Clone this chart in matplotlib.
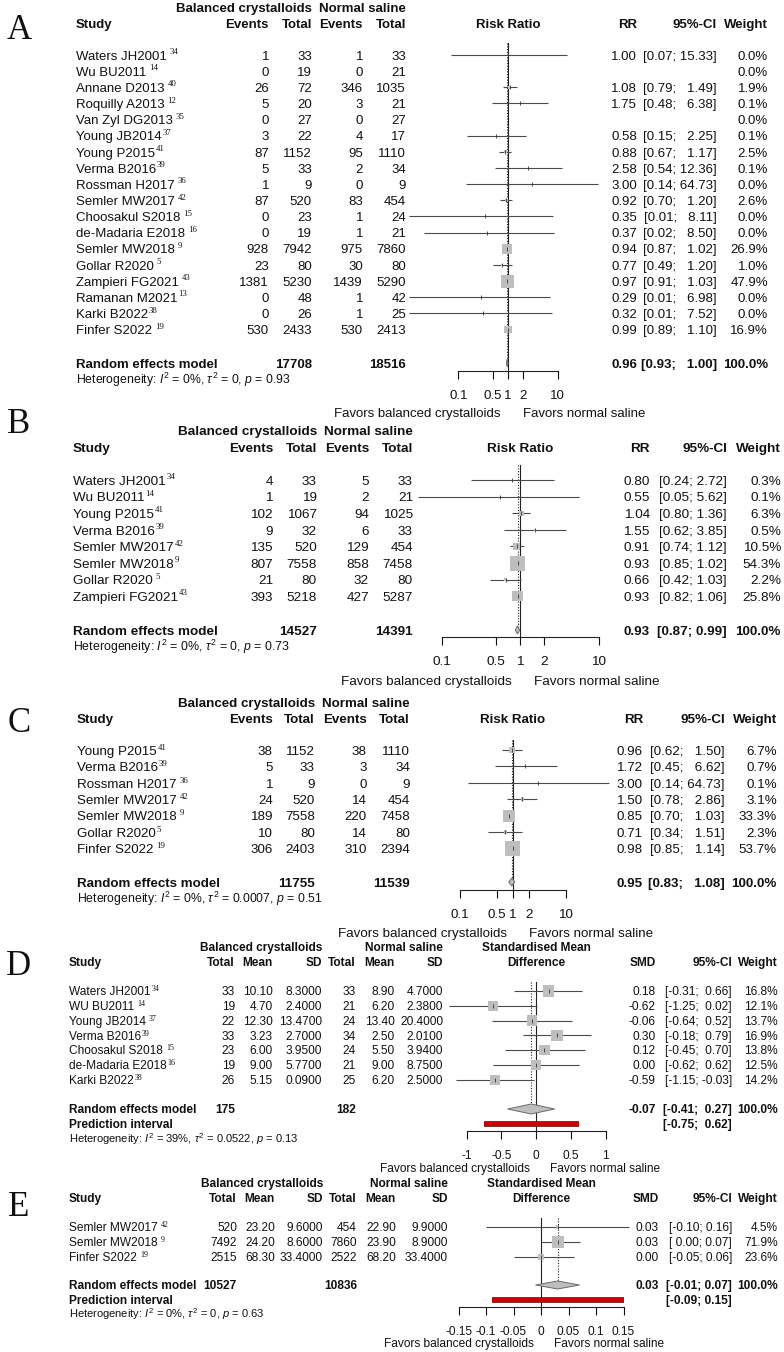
import numpy as np
import matplotlib
matplotlib.use("Agg")
import matplotlib.pyplot as plt
from matplotlib import patheffects as pe
from matplotlib.ticker import NullLocator

nan = np.nan

# ---------------- DATA ----------------
# Panel A
A_names = ["Waters JH2001", "Wu BU2011", "Annane D2013", "Roquilly A2013", "Van Zyl DG2013",
           "Young JB2014", "Young P2015", "Verma B2016", "Rossman H2017", "Semler MW2017",
           "Choosakul S2018", "de-Madaria E2018", "Semler MW2018", "Gollar R2020",
           "Zampieri FG2021", "Ramanan M2021", "Karki B2022", "Finfer S2022"]
A_refs = [" 34", " 14", " 40", " 12", " 35", "37", "41", "39", " 36", " 42", " 15", " 16",
          " 9", " 5", " 43", "13", "38", " 19"]
A_e1 = [1, 0, 26, 5, 0, 3, 87, 5, 1, 87, 0, 0, 928, 23, 1381, 0, 0, 530]
A_n1 = [33, 19, 72, 20, 27, 22, 1152, 33, 9, 520, 23, 19, 7942, 80, 5230, 48, 26, 2433]
A_e2 = [1, 0, 346, 3, 0, 4, 95, 2, 0, 83, 1, 1, 975, 30, 1439, 1, 1, 530]
A_n2 = [33, 21, 1035, 21, 27, 17, 1110, 34, 9, 454, 24, 21, 7860, 80, 5290, 42, 25, 2413]
A_rr = [1.00, nan, 1.08, 1.75, nan, 0.58, 0.88, 2.58, 3.00, 0.92, 0.35, 0.37, 0.94, 0.77, 0.97, 0.29, 0.32, 0.99]
A_lo = [0.07, nan, 0.79, 0.48, nan, 0.15, 0.67, 0.54, 0.14, 0.70, 0.01, 0.02, 0.87, 0.49, 0.91, 0.01, 0.01, 0.89]
A_hi = [15.33, nan, 1.49, 6.38, nan, 2.25, 1.17, 12.36, 64.73, 1.20, 8.11, 8.50, 1.02, 1.20, 1.03, 6.98, 7.52, 1.10]
A_w = [0.0, 0.0, 1.9, 0.1, 0.0, 0.1, 2.5, 0.1, 0.0, 2.6, 0.0, 0.0, 26.9, 1.0, 47.9, 0.0, 0.0, 16.9]
A_tot = [17708, 18516]
A_sum = [0.96, 0.93, 1.00]
A_het = ["0%", "0", "0.93"]

# Panel B
B_names = ["Waters JH2001", "Wu BU2011", "Young P2015", "Verma B2016", "Semler MW2017",
           "Semler MW2018", "Gollar R2020", "Zampieri FG2021"]
B_refs = ["34", "14", "41", "39", "42", "9", " 5", "43"]
B_e1 = [4, 1, 102, 9, 135, 807, 21, 393]
B_n1 = [33, 19, 1067, 32, 520, 7558, 80, 5218]
B_e2 = [5, 2, 94, 6, 129, 858, 32, 427]
B_n2 = [33, 21, 1025, 33, 454, 7458, 80, 5287]
B_rr = [0.80, 0.55, 1.04, 1.55, 0.91, 0.93, 0.66, 0.93]
B_lo = [0.24, 0.05, 0.80, 0.62, 0.74, 0.85, 0.42, 0.82]
B_hi = [2.72, 5.62, 1.36, 3.85, 1.12, 1.02, 1.03, 1.06]
B_w = [0.3, 0.1, 6.3, 0.5, 10.5, 54.3, 2.2, 25.8]
B_tot = [14527, 14391]
B_sum = [0.93, 0.87, 0.99]
B_het = ["0%", "0", "0.73"]

# Panel C
C_names = ["Young P2015", "Verma B2016", "Rossman H2017", "Semler MW2017", "Semler MW2018",
           "Gollar R2020", "Finfer S2022"]
C_refs = ["41", "39", " 36", " 42", " 9", "5", " 19"]
C_e1 = [38, 5, 1, 24, 189, 10, 306]
C_n1 = [1152, 33, 9, 520, 7558, 80, 2403]
C_e2 = [38, 3, 0, 14, 220, 14, 310]
C_n2 = [1110, 34, 9, 454, 7458, 80, 2394]
C_rr = [0.96, 1.72, 3.00, 1.50, 0.85, 0.71, 0.98]
C_lo = [0.62, 0.45, 0.14, 0.78, 0.70, 0.34, 0.85]
C_hi = [1.50, 6.62, 64.73, 2.86, 1.03, 1.51, 1.14]
C_w = [6.7, 0.7, 0.1, 3.1, 33.3, 2.3, 53.7]
C_tot = [11755, 11539]
C_sum = [0.95, 0.83, 1.08]
C_het = ["0%", "0.0007", "0.51"]

# Panel D
D_names = ["Waters JH2001", "WU BU2011", "Young JB2014", "Verma B2016", "Choosakul S2018",
           "de-Madaria E2018", "Karki B2022"]
D_refs = ["34", " 14", " 37", "39", " 15", "16", "38"]
D_n1 = [33, 19, 22, 33, 23, 19, 26]
D_m1 = [10.10, 4.70, 12.30, 3.23, 6.00, 9.00, 5.15]
D_sd1 = [8.3, 2.4, 13.47, 2.7, 3.95, 5.77, 0.09]
D_n2 = [33, 21, 24, 34, 24, 21, 25]
D_m2 = [8.90, 6.20, 13.40, 2.50, 5.50, 9.00, 6.20]
D_sd2 = [4.7, 2.38, 20.4, 2.01, 3.94, 8.75, 2.5]
D_smd = [0.18, -0.62, -0.06, 0.30, 0.12, 0.00, -0.59]
D_lo = [-0.31, -1.25, -0.64, -0.18, -0.45, -0.62, -1.15]
D_hi = [0.66, 0.02, 0.52, 0.79, 0.70, 0.62, -0.03]
D_w = [16.8, 12.1, 13.7, 16.9, 13.8, 12.5, 14.2]
D_tot = [175, 182]
D_sum = [-0.07, -0.41, 0.27]
D_pi = [-0.75, 0.62]
D_het = ["39%", "0.0522", "0.13"]

# Panel E
E_names = ["Semler MW2017", "Semler MW2018", "Finfer S2022"]
E_refs = [" 42", " 9", " 19"]
E_n1 = [520, 7492, 2515]
E_m1 = [23.20, 24.20, 68.30]
E_sd1 = [9.6, 8.6, 33.4]
E_n2 = [454, 7860, 2522]
E_m2 = [22.90, 23.90, 68.20]
E_sd2 = [9.9, 8.9, 33.4]
E_smd = [0.03, 0.03, 0.00]
E_lo = [-0.10, 0.00, -0.05]
E_hi = [0.16, 0.07, 0.06]
E_w = [4.5, 71.9, 23.6]
E_tot = [10527, 10836]
E_sum = [0.03, -0.01, 0.07]
E_pi = [-0.09, 0.15]
E_het = ["0%", "0", "0.63"]

RR_ticks = [0.1, 0.5, 1, 2, 10]
RR_ticklabels = ["0.1", "0.5", "1", "2", "10"]
D_ticks = [-1, -0.5, 0, 0.5, 1]
D_ticklabels = ["-1", "-0.5", "0", "0.5", "1"]
E_ticks = [-0.15, -0.1, -0.05, 0, 0.05, 0.1, 0.15]
E_ticklabels = ["-0.15", "-0.1", "-0.05", "0", "0.05", "0.1", "0.15"]

LEFT_LABEL = "Favors balanced crystalloids"
RIGHT_LABEL = "Favors normal saline"

# ---------------- STYLE / SETUP ----------------
W, H = 784, 1352
plt.rcParams['font.family'] = ['Liberation Sans', 'DejaVu Sans']
plt.rcParams['mathtext.fontset'] = 'custom'
plt.rcParams['mathtext.rm'] = 'Liberation Serif'
plt.rcParams['mathtext.it'] = 'Liberation Sans:italic'
plt.rcParams['mathtext.sf'] = 'Liberation Sans'
plt.rcParams['mathtext.bf'] = 'Liberation Sans:bold'

fig = plt.figure(figsize=(W / 100, H / 100), dpi=100)
ax0 = fig.add_axes([0, 0, 1, 1])
ax0.set_xlim(0, W)
ax0.set_ylim(H, 0)
ax0.axis('off')
RENDERER = fig.canvas.get_renderer()

SQ = '#BEBEBE'
LN = '#4a4a4a'
TXT = '#111111'


def T(x, y, s, ha='left', fs=9.5, bold=False, family=None):
    # y = visual centre of capitals; convert to baseline
    off = 0.355 * fs * 100 / 72
    kw = {}
    if family:
        kw['family'] = family
    return ax0.text(x, y + off, s, ha=ha, va='baseline', fontsize=fs,
                    fontweight='bold' if bold else 'normal', color=TXT, **kw)


def name_with_ref(x, y, n, r, fs, raise_px):
    t = T(x, y, n, fs=fs)
    bb = t.get_window_extent(renderer=RENDERER)
    gap = 3.0 if r.startswith(' ') else 0.8
    sfs = fs * 0.66
    off = 0.355 * fs * 100 / 72
    ax0.text(bb.x1 + gap, y + off - raise_px, r.strip(), ha='left', va='baseline', fontsize=sfs,
             family='Liberation Serif', color=TXT)


def pad(s, maxd, anyneg):
    nd = sum(c.isdigit() for c in s)
    p = '  ' * (maxd - nd)
    if anyneg and not s.startswith('-'):
        p += ' '
    return p + s


def ci_strings(los, his):
    los_s = [f"{v:.2f}" for v in los]
    his_s = [f"{v:.2f}" for v in his]
    mdl = max(sum(c.isdigit() for c in s) for s in los_s)
    mdh = max(sum(c.isdigit() for c in s) for s in his_s)
    nl = any(s.startswith('-') for s in los_s)
    nh = any(s.startswith('-') for s in his_s)
    return ["[" + pad(a, mdl, nl) + "; " + pad(b, mdh, nh) + "]" for a, b in zip(los_s, his_s)]


def het_text(h):
    return ("Heterogeneity: $\\mathit{I}^{\\mathsf{2}}$ = " + h[0] + ", $\\tau^{\\mathsf{2}}$ = "
            + h[1] + ", $\\mathit{p}$ = " + h[2])


def make_axes(xpx, ypx, xmap, log):
    x0, x1 = xpx
    y0, y1 = ypx
    ax = fig.add_axes([x0 / W, 1 - y1 / H, (x1 - x0) / W, (y1 - y0) / H])
    p0, ppu, ref = xmap
    if log:
        ax.set_xscale('log')
        ax.set_xlim(10 ** ((x0 - p0) / ppu), 10 ** ((x1 - p0) / ppu))
    else:
        ax.set_xlim(ref + (x0 - p0) / ppu, ref + (x1 - p0) / ppu)
    ax.set_ylim(y1, y0)
    ax.patch.set_visible(False)
    for s in ['top', 'left', 'right']:
        ax.spines[s].set_visible(False)
    ax.set_yticks([])
    return ax


def draw_forest(ax, ys, est, lo, hi, w, smax, null, pooled, vtop, re_y, axis_y, summ,
                ticks, ticklabels, fs, dh=4.0, pi=None, pi_y=None):
    wmax = max(w)
    for yi, e, l, h, wi in zip(ys, est, lo, hi, w):
        if np.isnan(e):
            continue
        ax.plot([l, h], [yi, yi], color=LN, lw=0.8, solid_capstyle='butt', zorder=2, clip_on=False)
        side = smax * np.sqrt(wi / wmax)
        if side > 1.2:
            ax.scatter([e], [yi], s=(side * 0.72) ** 2, marker='s', color=SQ, edgecolors='none',
                       zorder=3, clip_on=False)
        ax.scatter([e], [yi], s=9, marker='|', color='#333333', linewidths=0.6, zorder=4, clip_on=False)
    ax.plot([null, null], [vtop, axis_y], color='#222222', lw=0.8, zorder=1)
    ax.plot([pooled, pooled], [vtop, re_y], color='#222222', lw=0.8, ls=(0, (1, 1.5)), zorder=1)
    e, l, h = summ
    ax.fill([l, e, h, e], [re_y, re_y - dh, re_y, re_y + dh], facecolor=SQ, edgecolor='#6a6a6a',
            lw=0.7, zorder=3)
    if pi is not None:
        ax.plot([pi[0], pi[1]], [pi_y, pi_y], color='#CC0000', lw=3.0, solid_capstyle='butt', zorder=3,
                path_effects=[pe.Stroke(linewidth=4.0, foreground='#5a0000'), pe.Normal()])
    ax.spines['bottom'].set_position(('data', axis_y))
    ax.spines['bottom'].set_bounds(ticks[0], ticks[-1])
    ax.spines['bottom'].set_linewidth(0.8)
    ax.spines['bottom'].set_color('#222222')
    ax.set_xticks(ticks)
    ax.set_xticklabels(ticklabels)
    ax.xaxis.set_minor_locator(NullLocator())
    ax.tick_params(axis='x', direction='out', length=5.5, width=0.8, pad=8, labelsize=fs,
                   colors='#111111')


def rr_panel(letter, L, names, refs, e1, n1, e2, n2, rr, lo, hi, w, tot, summ, het):
    fs = L['fs']
    T(L['letter'][0], L['letter'][1], letter, ha='center', fs=25, family='Liberation Serif')
    c = L['cols']
    T(c[1], L['h1'], "Balanced crystalloids", ha='right', fs=fs, bold=True)
    T(c[3], L['h1'], "Normal saline", ha='right', fs=fs, bold=True)
    T(L['name_x'], L['h2'], "Study", fs=fs, bold=True)
    for cx, lab in zip(c, ["Events", "Total", "Events", "Total"]):
        T(cx, L['h2'], lab, ha='right', fs=fs, bold=True)
    T(L['p0'], L['h2'], "Risk Ratio", ha='center', fs=fs, bold=True)
    T(L['est_x'], L['h2'], "RR", ha='right', fs=fs, bold=True)
    T(L['ci_x'], L['h2'], "95%-CI", ha='right', fs=fs, bold=True)
    T(L['w_x'], L['h2'], "Weight", ha='right', fs=fs, bold=True)
    ys = [L['row0'] + i * L['dy'] for i in range(len(names))]
    valid = [i for i in range(len(rr)) if not np.isnan(rr[i])]
    cis = ci_strings([lo[i] for i in valid] + [summ[1]], [hi[i] for i in valid] + [summ[2]])
    k = 0
    for i, y in enumerate(ys):
        name_with_ref(L['name_x'], y, names[i], refs[i], fs, L['sup'])
        for cx, v in zip(c, [e1[i], n1[i], e2[i], n2[i]]):
            T(cx, y, str(v), ha='right', fs=fs)
        if not np.isnan(rr[i]):
            T(L['est_x'], y, f"{rr[i]:.2f}", ha='right', fs=fs)
            T(L['ci_x'], y, cis[k], ha='right', fs=fs)
            k += 1
        T(L['w_x'], y, f"{w[i]:.1f}%", ha='right', fs=fs)
    re_y = L['re_y']
    T(L['name_x'], re_y, "Random effects model", fs=fs, bold=True)
    T(c[1], re_y, str(tot[0]), ha='right', fs=fs, bold=True)
    T(c[3], re_y, str(tot[1]), ha='right', fs=fs, bold=True)
    T(L['est_x'], re_y, f"{summ[0]:.2f}", ha='right', fs=fs, bold=True)
    T(L['ci_x'], re_y, cis[-1], ha='right', fs=fs, bold=True)
    T(L['w_x'], re_y, "100.0%", ha='right', fs=fs, bold=True)
    T(L['name_x'], L['het_y'], het_text(het), fs=L['hfs'])
    ax = make_axes(L['ax_x'], L['ax_y'], (L['p0'], L['ppu'], 1.0), True)
    draw_forest(ax, ys, rr, lo, hi, w, L['smax'], 1.0, summ[0], L['vtop'], re_y, L['axis_y'], summ,
                RR_ticks, RR_ticklabels, fs)
    T(L['fav'][0], L['fav_y'], LEFT_LABEL, ha='right', fs=fs)
    T(L['fav'][1], L['fav_y'], RIGHT_LABEL, ha='left', fs=fs)


def smd_panel(letter, L, names, refs, n1, m1, sd1, n2, m2, sd2, smd, lo, hi, w, tot, summ, pi, het,
              ticks, ticklabels):
    fs = L['fs']
    T(L['letter'][0], L['letter'][1], letter, ha='center', fs=25, family='Liberation Serif')
    c = L['cols']
    T(c[2], L['h1'], "Balanced crystalloids", ha='right', fs=fs, bold=True)
    T(c[5], L['h1'], "Normal saline", ha='right', fs=fs, bold=True)
    T(L['p0'], L['h1'], "Standardised Mean", ha='center', fs=fs, bold=True)
    T(L['name_x'], L['h2'], "Study", fs=fs, bold=True)
    for cx, lab in zip(c, ["Total", "Mean", "SD", "Total", "Mean", "SD"]):
        T(cx, L['h2'], lab, ha='right', fs=fs, bold=True)
    T(L['p0'], L['h2'], "Difference", ha='center', fs=fs, bold=True)
    T(L['est_x'], L['h2'], "SMD", ha='right', fs=fs, bold=True)
    T(L['ci_x'], L['h2'], "95%-CI", ha='right', fs=fs, bold=True)
    T(L['w_x'], L['h2'], "Weight", ha='right', fs=fs, bold=True)
    ys = [L['row0'] + i * L['dy'] for i in range(len(names))]
    cis = ci_strings(list(lo) + [summ[1], pi[0]], list(hi) + [summ[2], pi[1]])
    for i, y in enumerate(ys):
        name_with_ref(L['name_x'], y, names[i], refs[i], fs, L['sup'])
        vals = [str(n1[i]), f"{m1[i]:.2f}", f"{sd1[i]:.4f}", str(n2[i]), f"{m2[i]:.2f}", f"{sd2[i]:.4f}"]
        for cx, v in zip(c, vals):
            T(cx, y, v, ha='right', fs=fs)
        T(L['est_x'], y, f"{smd[i]:.2f}", ha='right', fs=fs)
        T(L['ci_x'], y, cis[i], ha='right', fs=fs)
        T(L['w_x'], y, f"{w[i]:.1f}%", ha='right', fs=fs)
    re_y = L['re_y']
    T(L['name_x'], re_y, "Random effects model", fs=fs, bold=True)
    T(c[0], re_y, str(tot[0]), ha='right', fs=fs, bold=True)
    T(c[3], re_y, str(tot[1]), ha='right', fs=fs, bold=True)
    T(L['est_x'], re_y, f"{summ[0]:.2f}", ha='right', fs=fs, bold=True)
    T(L['ci_x'], re_y, cis[-2], ha='right', fs=fs, bold=True)
    T(L['w_x'], re_y, "100.0%", ha='right', fs=fs, bold=True)
    T(L['name_x'], L['pi_y'], "Prediction interval", fs=fs, bold=True)
    T(L['ci_x'], L['pi_y'], cis[-1], ha='right', fs=fs, bold=True)
    T(L['name_x'], L['het_y'], het_text(het), fs=L['hfs'])
    ax = make_axes(L['ax_x'], L['ax_y'], (L['p0'], L['ppu'], 0.0), False)
    draw_forest(ax, ys, smd, lo, hi, w, L['smax'], 0.0, summ[0], L['vtop'], re_y, L['axis_y'], summ,
                ticks, ticklabels, fs, dh=L['dh'], pi=pi, pi_y=L['pi_y'])
    T(L['fav'][0], L['fav_y'], LEFT_LABEL, ha='right', fs=fs)
    T(L['fav'][1], L['fav_y'], RIGHT_LABEL, ha='left', fs=fs)


# ---------------- LAYOUT (pixels) ----------------
LA = dict(fs=9.5, hfs=8.8, letter=(19, 27), h1=7, h2=23, cols=[269, 312, 363, 406], name_x=76,
          row0=55, dy=16.15, re_y=363, het_y=380, p0=508, ppu=49.7, est_x=637, ci_x=717, w_x=768,
          ax_x=(395, 660), ax_y=(35, 420), smax=13, vtop=43, axis_y=371, fav=(501, 523), fav_y=412,
          sup=5.5)
LB = dict(fs=9.7, hfs=8.9, letter=(19, 421), h1=430, h2=447, cols=[273, 317, 369, 413], name_x=73,
          row0=480, dy=16.6, re_y=630, het_y=647, p0=520, ppu=78.5, est_x=650, ci_x=727, w_x=781,
          ax_x=(415, 640), ax_y=(455, 690), smax=15, vtop=465, axis_y=637, fav=(512, 534), fav_y=680,
          sup=5.5)
LC = dict(fs=9.6, hfs=8.8, letter=(19, 720), h1=702, h2=718, cols=[273, 315, 367, 410], name_x=77,
          row0=750, dy=16.4, re_y=882, het_y=899, p0=513, ppu=53.0, est_x=643, ci_x=725, w_x=777,
          ax_x=(415, 640), ax_y=(730, 940), smax=15, vtop=740, axis_y=890, fav=(507, 529), fav_y=932,
          sup=5.0)
LD = dict(fs=8.6, hfs=8.0, letter=(19, 963), h1=947, h2=962, cols=[235, 273, 322, 356, 395, 443],
          name_x=69, row0=991, dy=14.8, re_y=1109, pi_y=1124, het_y=1139, p0=536, ppu=69.5,
          est_x=656, ci_x=732, w_x=778, ax_x=(440, 640), ax_y=(975, 1175), smax=11.5, vtop=982,
          axis_y=1131, fav=(530, 550), fav_y=1168, dh=5, sup=4.0)
LE = dict(fs=8.6, hfs=8.0, letter=(19, 1204), h1=1183, h2=1198, cols=[237, 275, 323, 357, 396, 448],
          name_x=69, row0=1227, dy=15.0, re_y=1285, pi_y=1300, het_y=1314, p0=541, ppu=550.0,
          est_x=659, ci_x=732, w_x=778, ax_x=(440, 640), ax_y=(1210, 1350), smax=12, vtop=1218,
          axis_y=1307, fav=(534, 554), fav_y=1343, dh=4, sup=4.0)

rr_panel("A", LA, A_names, A_refs, A_e1, A_n1, A_e2, A_n2, A_rr, A_lo, A_hi, A_w, A_tot, A_sum, A_het)
rr_panel("B", LB, B_names, B_refs, B_e1, B_n1, B_e2, B_n2, B_rr, B_lo, B_hi, B_w, B_tot, B_sum, B_het)
rr_panel("C", LC, C_names, C_refs, C_e1, C_n1, C_e2, C_n2, C_rr, C_lo, C_hi, C_w, C_tot, C_sum, C_het)
smd_panel("D", LD, D_names, D_refs, D_n1, D_m1, D_sd1, D_n2, D_m2, D_sd2, D_smd, D_lo, D_hi, D_w,
          D_tot, D_sum, D_pi, D_het, D_ticks, D_ticklabels)
smd_panel("E", LE, E_names, E_refs, E_n1, E_m1, E_sd1, E_n2, E_m2, E_sd2, E_smd, E_lo, E_hi, E_w,
          E_tot, E_sum, E_pi, E_het, E_ticks, E_ticklabels)

fig.savefig("out.png", dpi=100)
